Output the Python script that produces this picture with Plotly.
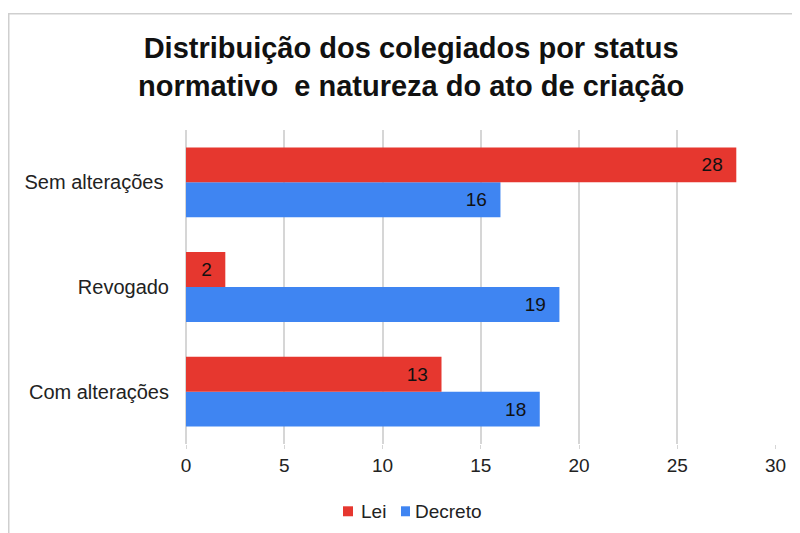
import plotly.graph_objects as go

categories = ["Com alterações", "Revogado", "Sem alterações\u00a0"]
lei = [13, 2, 28]
decreto = [18, 19, 16]
x_ticks = [0, 5, 10, 15, 20, 25, 30]
series_names = ["Lei", "Decreto"]
series_colors = ["#E6372F", "#3F85F2"]

FONT = "Liberation Sans, Arial, sans-serif"
W, H = 792, 525
ML, MR, MT, MB = 178, 24, 121.5, 88.5
PW, PH = W - ML - MR, H - MT - MB


def px_x(v):
    return (v - ML) / PW


def px_y(v):
    return 1 - (v - MT) / PH


fig = go.Figure()
fig.add_trace(go.Bar(
    y=categories, x=decreto, name=series_names[1], orientation="h",
    marker=dict(color=series_colors[1], line=dict(width=0)),
    texttemplate="%{x}\u00a0\u00a0", textposition="inside", insidetextanchor="end",
    textfont=dict(color="#111111", size=19, family=FONT),
    showlegend=False,
))
fig.add_trace(go.Bar(
    y=categories, x=lei, name=series_names[0], orientation="h",
    marker=dict(color=series_colors[0], line=dict(width=0)),
    texttemplate="%{x}\u00a0\u00a0", textposition="inside", insidetextanchor="end",
    textfont=dict(color="#111111", size=19, family=FONT),
    showlegend=False,
))

# custom legend (small squares + labels)
legend_sq = [(335, 345), (393, 402)]
legend_tx = [351, 405]
shapes = [dict(
    type="rect", xref="paper", yref="paper",
    x0=px_x(0.75), x1=1.2, y0=-0.6, y1=px_y(5),
    line=dict(color="#CFCFCF", width=1.5), fillcolor="rgba(0,0,0,0)",
    layer="below",
)]
annotations = []
for (a, b), tx, name, col in zip(legend_sq, legend_tx, series_names, series_colors):
    shapes.append(dict(
        type="rect", xref="paper", yref="paper",
        x0=px_x(a), x1=px_x(b), y0=px_y(509), y1=px_y(499),
        line=dict(width=0), fillcolor=col,
    ))
    annotations.append(dict(
        xref="paper", yref="paper", x=px_x(tx), y=px_y(504),
        xanchor="left", yanchor="middle", showarrow=False, text=name,
        font=dict(size=19, color="#222222", family=FONT),
    ))

fig.update_layout(
    width=W, height=H,
    barmode="group", bargap=1/3, bargroupgap=0,
    paper_bgcolor="white", plot_bgcolor="white",
    margin=dict(l=ML, r=MR, t=MT, b=MB, autoexpand=False),
    font=dict(family=FONT, size=19, color="#222222"),
    title=dict(
        text="<b>Distribuição dos colegiados por status<br>normativo  e natureza do ato de criação</b>",
        x=0.509, xanchor="center", y=0.905, yanchor="middle",
        font=dict(size=29, color="#111111", family=FONT),
    ),
    showlegend=False,
    xaxis=dict(
        range=[0, 30.02], tickvals=x_ticks, showgrid=True,
        gridcolor="#D6D6D6", gridwidth=1.5, zeroline=True,
        zerolinecolor="#D6D6D6", zerolinewidth=1.5,
        ticks="outside", ticklen=4, tickcolor="#D6D6D6",
        tickfont=dict(size=19, color="#222222"),
        showline=False,
    ),
    yaxis=dict(
        range=[-0.5, 2.5], showgrid=False, ticks="",
        ticklabelstandoff=16, tickfont=dict(size=20, color="#222222"),
        showline=False,
    ),
    shapes=shapes,
    annotations=annotations,
)

fig.write_html("out.html")
